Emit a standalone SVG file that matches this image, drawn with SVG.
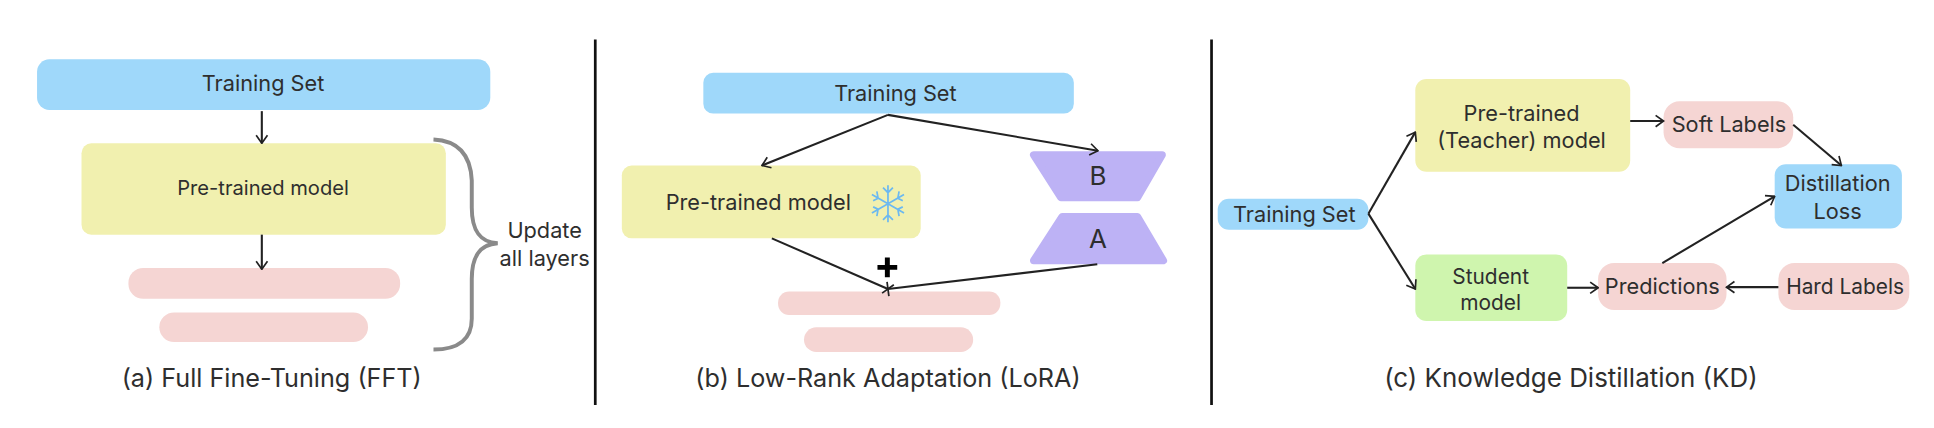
<svg xmlns="http://www.w3.org/2000/svg" width="1934" height="428" viewBox="0 0 1934 428">
<defs>
<marker id="a" viewBox="0 0 12 12" refX="11" refY="6" markerWidth="11" markerHeight="11" markerUnits="userSpaceOnUse" orient="auto"><path d="M4 1L11 6L4 11" fill="none" stroke="#222" stroke-width="1.5"/></marker>
<marker id="x" viewBox="0 0 12 12" refX="6" refY="6" markerWidth="12" markerHeight="12" markerUnits="userSpaceOnUse" orient="auto"><path d="M3 1L9 11M3 11L9 1" fill="none" stroke="#222" stroke-width="1.4"/></marker>
</defs>
<style>
text{font-family:Inter,"Liberation Sans",sans-serif;font-size:17.6px;fill:#2e2e2e;text-anchor:middle}
.cap{font-size:20.4px}
.big{font-size:21px}
.sm{font-size:16.9px}
.blue{fill:#9FD8FA}.yel{fill:#F1F0AF}.pink{fill:#F5D5D3}.grn{fill:#CFF5AE}
.pur{fill:#BDB2F5;stroke:#BDB2F5;stroke-width:6;stroke-linejoin:round}
.c{fill:none;stroke:#222;stroke-width:1.7}
.div{stroke:#111;stroke-width:2.2}
.s{stroke:#6CB9F0;stroke-width:1.4;fill:none}
</style>
<rect width="1934" height="428" fill="#fff"/>
<g transform="scale(1.235)">
<g id="dividers"><line class="div" x1="482" y1="32" x2="482" y2="328"/><line class="div" x1="981" y1="32" x2="981" y2="328"/></g>

<g id="fft-train"><rect class="blue" x="30" y="48" width="367" height="41" rx="10"/><text x="213" y="74">Training Set</text></g>
<g id="fft-model"><rect class="yel" x="66" y="116" width="295" height="74" rx="8"/><text x="213" y="158" style="font-size:16.300px">Pre-trained model</text></g>
<g id="fft-l1"><rect class="pink" x="104" y="217" width="220" height="25" rx="12"/></g>
<g id="fft-l2"><rect class="pink" x="129" y="253" width="169" height="24" rx="12"/></g>
<g id="fft-update"><text x="441" y="193">Update</text><text x="441" y="215">all layers</text></g>
<text class="cap" x="220" y="313">(a) Full Fine-Tuning (FFT)</text>

<g id="lora-train"><rect class="blue" x="569.500" y="59" width="300" height="33" rx="8"/><text x="725" y="82">Training Set</text></g>
<g id="lora-model"><rect class="yel" x="503.500" y="134" width="242" height="59" rx="8"/><text x="614" y="170">Pre-trained model</text>
<g transform="translate(719 165)"><path class="s" d="M0-15V15M-13-7.500L13 7.500M-13 7.500L13-7.500M-4-13L0-9L4-13M-4 13L0 9L4 13M-12-2.500L-8-4.500L-9-10M12 2.500L8 4.500L9 10M12-2.500L8-4.500L9-10M-12 2.500L-8 4.500L-9 10"/></g></g>
<g id="lora-b"><path class="pur" d="M837 125.500H941L921 160H859Z"/><text class="big" x="889" y="150">B</text></g>
<g id="lora-a"><path class="pur" d="M860 175.500H921L942 211H837Z"/><text class="big" x="889" y="201">A</text></g>
<g id="lora-l1"><rect class="pink" x="630" y="236" width="180" height="19" rx="9"/></g>
<g id="lora-l2"><rect class="pink" x="651" y="265" width="137" height="20" rx="10"/></g>
<path id="lora-plus" d="M716.500 208.500h4v6h6v4h-6v6h-4v-6h-6v-4h6z" fill="#000"/>
<text class="cap" x="719" y="313">(b) Low-Rank Adaptation (LoRA)</text>

<g id="kd-train"><rect class="blue" x="986" y="161" width="122" height="25" rx="9"/><text x="1048" y="180">Training Set</text></g>
<g id="kd-teacher"><rect class="yel" x="1146" y="64" width="174" height="75" rx="9"/><text x="1232" y="98">Pre-trained</text><text x="1232" y="120">(Teacher) model</text></g>
<g id="kd-soft"><rect class="pink" x="1347" y="82" width="105" height="38" rx="13"/><text x="1400" y="107">Soft Labels</text></g>
<g id="kd-loss"><rect class="blue" x="1437" y="133" width="103" height="52" rx="9"/><text x="1488" y="155">Distillation</text><text x="1488" y="177">Loss</text></g>
<g id="kd-student"><rect class="grn" x="1146" y="206" width="123" height="54" rx="9"/><text x="1207" y="230" class="sm">Student</text><text x="1207" y="251" class="sm">model</text></g>
<g id="kd-pred"><rect class="pink" x="1294" y="213" width="104" height="38" rx="13"/><text x="1346" y="238">Predictions</text></g>
<g id="kd-hard"><rect class="pink" x="1440" y="213" width="106" height="38" rx="13"/><text x="1494" y="238" class="sm">Hard Labels</text></g>
<text class="cap" x="1272" y="313" style="font-size:21px">(c) Knowledge Distillation (KD)</text>

<g id="connectors">
<path class="c" marker-end="url(#a)" d="M212 90V116"/>
<path class="c" marker-end="url(#a)" d="M212 190V218"/>
<path fill="none" stroke="#8A8A8A" stroke-width="3.2" d="M351 113C372 114 381 126 382 146V168C382 186 388 196 403 197C388 198 382 208 382 226V258C382 274 372 283 351 283"/>
<path class="c" marker-end="url(#a)" d="M719 93L617 134"/>
<path class="c" marker-end="url(#a)" d="M719 93L889 122"/>
<path class="c" marker-end="url(#x)" d="M625 193L719 234"/>
<path class="c" d="M719 234L888.500 214"/>
<path class="c" marker-end="url(#a)" d="M1108 173L1146 107"/>
<path class="c" marker-end="url(#a)" d="M1108 173L1146 234"/>
<path class="c" marker-end="url(#a)" d="M1320 98H1347"/>
<path class="c" marker-end="url(#a)" d="M1452 101L1491 134"/>
<path class="c" marker-end="url(#a)" d="M1346 213L1437 159"/>
<path class="c" marker-end="url(#a)" d="M1269 233H1294"/>
<path class="c" marker-end="url(#a)" d="M1440 232.500H1398"/>
</g>
</g>
</svg>
